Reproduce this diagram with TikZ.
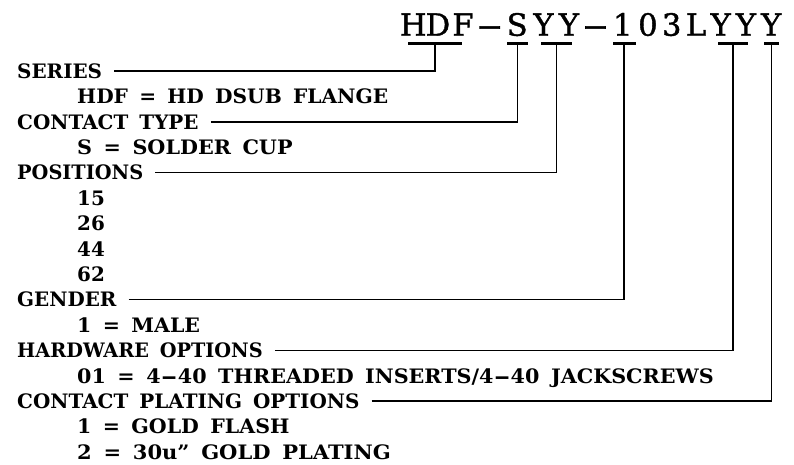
\documentclass[tikz,border=0pt]{standalone}
\usepackage{fontspec}
\setmainfont{DejaVu Serif}[WordSpace={1.6}]
\newfontfamily\titlefont{DejaVu Serif}[FakeBold=1.2]
\usepackage{graphicx}
\newcommand\tc[2]{\makebox[#1pt][c]{#2}}
\newcommand\wdash{\scalebox{2}[1]{-}}
\newcommand\tdash{\scalebox{2.6}[1]{-}}
\newcommand\sx[2]{\scalebox{#1}[1]{#2}}
\begin{document}
\begin{tikzpicture}[x=1pt,y=-1pt,
  lbl/.style={anchor=west, inner sep=0pt, text height=14.5pt, text depth=0pt,
    font=\fontsize{19.9}{24}\bfseries\selectfont},
  bar/.style={fill=black, inner sep=0pt, minimum height=3.2pt},
  lead/.style={line width=1.5pt}]
\path[use as bounding box, fill=white] (0,0) rectangle (794,464);

% title
\node[anchor=base west, inner sep=0pt, font=\fontsize{30.6}{36}\titlefont] (title) at (400.5,35.7)
 {\tc{25}{H}\tc{24.5}{D}\tc{25.5}{F}\tc{28}{\tdash}\tc{27}{S}\tc{25.5}{Y}\tc{25.5}{Y}\tc{27.5}{\tdash}\tc{27}{1}\tc{23.5}{0}\tc{24}{3}\tc{24.5}{L}\tc{25}{Y}\tc{25.5}{Y}\tc{25}{Y}};

% bars
\node[bar, minimum width=54pt] (b1) at (435,43.3) {};
\node[bar, minimum width=21pt] (b2) at (517.5,43.3) {};
\node[bar, minimum width=31pt] (b3) at (556.5,43.3) {};
\node[bar, minimum width=23pt] (b4) at (624,43.3) {};
\node[bar, minimum width=30pt] (b5) at (733,43.3) {};
\node[bar, minimum width=15pt] (b6) at (771.5,43.3) {};

% left texts
\node[lbl] (l0) at (17,71) {SERIES};
\node[lbl] (d1) at (77,96.4) {\sx{1.013}{HDF = HD DSUB FLANGE}};
\node[lbl] (l2) at (17,121.8) {CONTACT TYPE};
\node[lbl] (d3) at (77,147.2) {\sx{1.04}{S = SOLDER CUP}};
\node[lbl] (l4) at (17,172.6) {\sx{0.97}{POSITIONS}};
\node[lbl] (d5) at (77,198) {15};
\node[lbl] (d6) at (77,223.4) {26};
\node[lbl] (d7) at (77,248.8) {44};
\node[lbl] (d8) at (77,274.2) {62};
\node[lbl] (l9) at (17,299.6) {GENDER};
\node[lbl] (d10) at (77,325) {\sx{1.03}{1 = MALE}};
\node[lbl] (l11) at (17,350.4) {\sx{0.968}{HARDWARE OPTIONS}};
\node[lbl] (d12) at (77,375.8) {\sx{1.039}{01 = 4\wdash40 THREADED INSERTS/4\wdash40 JACKSCREWS}};
\node[lbl] (l13) at (17,401.2) {CONTACT PLATING OPTIONS};
\node[lbl] (d14) at (77,426.6) {\sx{1.03}{1 = GOLD FLASH}};
\node[lbl] (d15) at (77,452) {\sx{1.057}{2 = 30u” GOLD PLATING}};

% leaders
\draw[lead] ([xshift=12pt]l0.east) -| (b1.south);
\draw[lead] ([xshift=12pt]l2.east) -| (b2.south);
\draw[lead] ([xshift=12pt]l4.east) -| (b3.south);
\draw[lead] ([xshift=12pt]l9.east) -| (b4.south);
\draw[lead] ([xshift=12pt]l11.east) -| (b5.south);
\draw[lead] ([xshift=12pt]l13.east) -| (b6.south);
\end{tikzpicture}
\end{document}
